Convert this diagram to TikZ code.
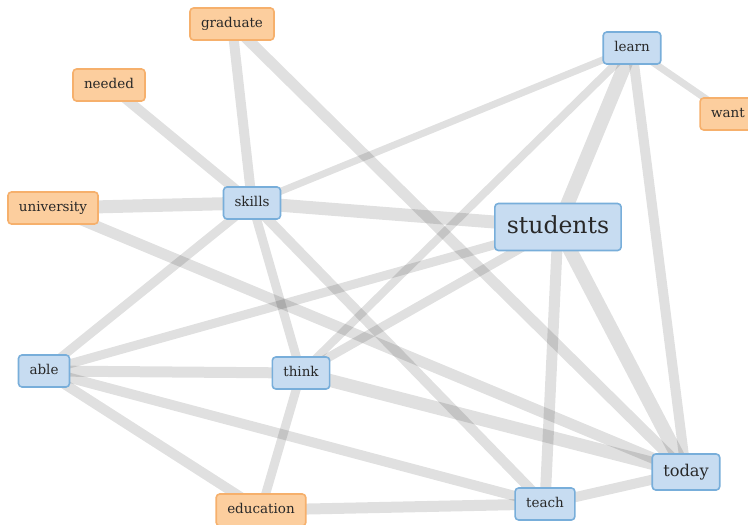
\documentclass[tikz,border=0pt]{standalone}
\usepackage{fontspec}
\setmainfont{DejaVu Serif}
\usepackage{xcolor}
\usetikzlibrary{backgrounds}
\definecolor{coreFill}{RGB}{199,220,241}
\definecolor{coreLine}{RGB}{120,174,218}
\definecolor{sideFill}{RGB}{252,206,158}
\definecolor{sideLine}{RGB}{246,176,108}
\definecolor{wordInk}{RGB}{40,40,40}

\begin{document}
\begin{tikzpicture}[x=1pt, y=-1pt,
  word/.style={rectangle, rounded corners=3.5pt, line width=1.6pt, inner xsep=11pt,
               minimum height=32pt, text height=10pt, text depth=3pt,
               text=wordInk, font=\fontsize{13.5}{16}\selectfont},
  core/.style={word, draw=coreLine, fill=coreFill},
  side/.style={word, draw=sideLine, fill=sideFill},
  link/.style={draw=black, draw opacity=0.12, line width=#1},
  link/.default=10pt,
]
\useasboundingbox (0,0) rectangle (748,525);
% words
\node[side] (graduate) at (232,24) {graduate};
\node[side] (needed) at (109,85) {needed};
\node[side] (university) at (53,208) {university};
\node[core] (skills) at (252,203) {skills};
\node[core] (learn) at (632,48) {learn};
\node[side] (want) at (728,114) {want};
\node[core, minimum height=47pt, inner xsep=12pt, text height=17pt, text depth=5pt,
      font=\fontsize{23.5}{26}\selectfont] (students) at (558,227) {students};
\node[core] (able) at (44,371) {able};
\node[core] (think) at (301,373) {think};
\node[side] (education) at (261,510) {education};
\node[core] (teach) at (545,504) {teach};
\node[core, minimum height=36pt, inner xsep=11pt, text height=12pt, text depth=3.8pt,
      font=\fontsize{16.2}{19}\selectfont] (today) at (686,472) {today};
% links behind the words
\begin{scope}[on background layer]
\fill[white] (0,0) rectangle (748,525);
\draw[link=10pt] (graduate.center) -- (skills.center);
\draw[link=11pt] (graduate.center) -- (today.center);
\draw[link=10pt] (needed.center) -- (skills.center);
\draw[link=13pt] (university.center) -- (skills.center);
\draw[link=11pt] (university.center) -- (today.center);
\draw[link=7pt] (skills.center) -- (learn.center);
\draw[link=13pt] (skills.center) -- (students.center);
\draw[link=9pt] (skills.center) -- (able.center);
\draw[link=9pt] (skills.center) -- (think.center);
\draw[link=10pt] (skills.center) -- (teach.center);
\draw[link=7pt] (learn.center) -- (want.center);
\draw[link=14pt] (learn.center) -- (students.center);
\draw[link=8pt] (learn.center) -- (think.center);
\draw[link=10pt] (learn.center) -- (today.center);
\draw[link=9pt] (students.center) -- (able.center);
\draw[link=9pt] (students.center) -- (think.center);
\draw[link=11pt] (students.center) -- (teach.center);
\draw[link=14pt] (students.center) -- (today.center);
\draw[link=11pt] (able.center) -- (think.center);
\draw[link=10pt] (able.center) -- (teach.center);
\draw[link=10pt] (able.center) -- (education.center);
\draw[link=9pt] (think.center) -- (education.center);
\draw[link=13pt] (think.center) -- (today.center);
\draw[link=11pt] (education.center) -- (teach.center);
\draw[link=10pt] (teach.center) -- (today.center);
\end{scope}
\end{tikzpicture}
\end{document}
